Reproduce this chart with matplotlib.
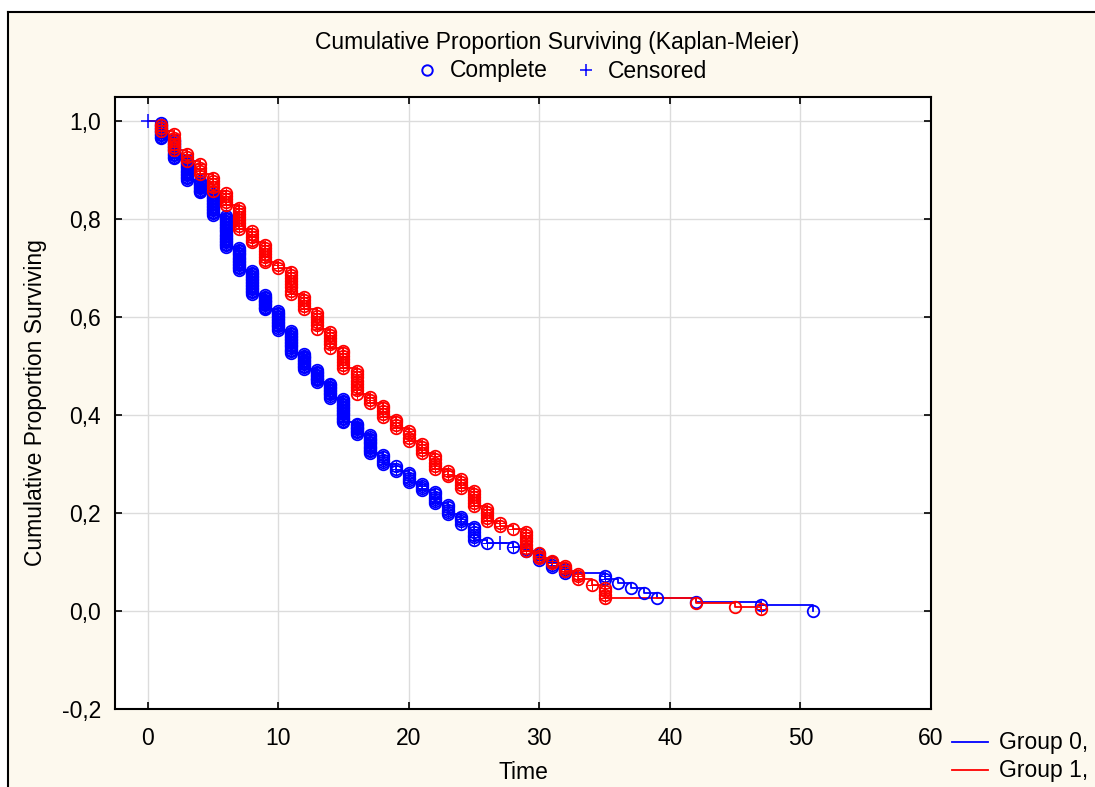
import matplotlib
matplotlib.use("Agg")
import matplotlib.pyplot as plt
import numpy as np
from matplotlib.lines import Line2D
from matplotlib.patches import Rectangle
from matplotlib.ticker import FuncFormatter

plt.rcParams['font.family'] = ['Liberation Sans', 'DejaVu Sans']

# Group 0 (blue): event times, survival after the step, events (circles) per step
t0 = [1, 2, 3, 4, 5, 6, 7, 8, 9, 10, 11, 12, 13, 14, 15, 16, 17, 18, 19, 20,
      21, 22, 23, 24, 25, 26, 28, 29, 30, 31, 32, 35, 36, 37, 38, 39, 42, 47, 51]
s0 = [0.966, 0.925, 0.881, 0.855, 0.810, 0.744, 0.697, 0.648, 0.616, 0.575,
      0.528, 0.495, 0.468, 0.436, 0.386, 0.362, 0.323, 0.300, 0.286, 0.264,
      0.247, 0.221, 0.198, 0.178, 0.145, 0.139, 0.131, 0.122, 0.104, 0.090,
      0.077, 0.066, 0.057, 0.047, 0.037, 0.027, 0.018, 0.012, 0.0]
d0 = [11, 13, 14, 9, 15, 21, 15, 16, 11, 13, 15, 11, 9, 10, 16, 8, 12, 5, 3, 5,
      4, 6, 5, 4, 6, 1, 1, 2, 3, 3, 3, 2, 1, 1, 1, 1, 1, 1, 1]
cens_t0 = [0, 27]
cens_s0 = [1.0, 0.139]

# Group 1 (red)
t1 = [1, 2, 3, 4, 5, 6, 7, 8, 9, 10, 11, 12, 13, 14, 15, 16, 17, 18, 19, 20,
      21, 22, 23, 24, 25, 26, 27, 28, 29, 30, 31, 32, 33, 34, 35, 42, 45, 47]
s1 = [0.980, 0.941, 0.920, 0.892, 0.859, 0.830, 0.781, 0.753, 0.712, 0.700,
      0.648, 0.616, 0.577, 0.538, 0.497, 0.444, 0.425, 0.397, 0.374, 0.348,
      0.323, 0.290, 0.276, 0.252, 0.215, 0.184, 0.174, 0.168, 0.123, 0.108,
      0.098, 0.082, 0.065, 0.053, 0.027, 0.017, 0.008, 0.004]
d1 = [3, 6, 3, 4, 5, 5, 8, 5, 7, 2, 8, 5, 6, 6, 7, 8, 3, 5, 4, 4,
      4, 5, 3, 4, 6, 5, 2, 1, 7, 3, 2, 3, 3, 1, 4, 1, 1, 1]

# steps where the circles also carry a "+" (censored ties)
plus_max0 = 35
plus_max1 = 35
plus_extra = [47]

FS = 16.5
W, H = 1095, 787

fig = plt.figure(figsize=(10.95, 7.87), dpi=100)
fig.patch.set_facecolor('#fdf9ee')
# white margin above / left of the outer frame, frame drawn on top and left only
fig.add_artist(Rectangle((0, 1 - 12 / H), 1, 12 / H, transform=fig.transFigure,
                         facecolor='white', edgecolor='none', zorder=0))
fig.add_artist(Rectangle((0, 0), 8 / W, 1, transform=fig.transFigure,
                         facecolor='white', edgecolor='none', zorder=0))
fig.add_artist(Line2D([8 / W, 1], [1 - 12 / H, 1 - 12 / H], color='black', lw=1.5,
                      transform=fig.transFigure))
fig.add_artist(Line2D([8 / W, 8 / W], [0, 1 - 12 / H], color='black', lw=1.5,
                      transform=fig.transFigure))

ax = fig.add_axes([115 / W, 1 - 709 / H, 816 / W, 612 / H])
ax.set_facecolor('white')


def draw_group(t, s, d, color, plus_max):
    xs = [0] + t
    ys = [1.0] + s
    ax.plot(xs, ys, drawstyle='steps-post', color=color, lw=1.3, zorder=3)
    prev = 1.0
    for ti, si, di in zip(t, s, d):
        step = (prev - si) / di
        vals = np.linspace(prev - step, si, di)
        ax.plot([ti] * di, vals, 'o', ms=8.3, mfc='none', mec=color, mew=1.3, zorder=4)
        if ti <= plus_max or ti in plus_extra:
            ax.plot([ti] * di, vals, '+', ms=6.5, color=color, mew=0.7, zorder=4)
        prev = si


draw_group(t0, s0, d0, '#0000ff', plus_max0)
draw_group(t1, s1, d1, '#ff0000', plus_max1)
ax.plot(cens_t0, cens_s0, '+', ms=10, color='#0000ff', mew=1.1, zorder=5)

ax.set_xlim(-2.5, 60)
ax.set_ylim(-0.2, 1.05)
ax.set_xticks(np.arange(0, 61, 10))
ax.set_yticks(np.arange(-0.2, 1.01, 0.2))
ax.yaxis.set_major_formatter(FuncFormatter(lambda v, p: f'{v:.1f}'.replace('.', ',')))
ax.grid(True, color='#dcdcdc', lw=1)
ax.set_axisbelow(True)
ax.tick_params(direction='in', length=5, width=1.2, labelsize=FS, top=True, right=True)
ax.tick_params(axis='y', pad=10)
ax.tick_params(axis='x', pad=13)
for sp in ax.spines.values():
    sp.set_linewidth(1.5)
ax.set_xlabel('Time', fontsize=FS, labelpad=8)
ax.set_ylabel('Cumulative Proportion Surviving', fontsize=FS, labelpad=11)

# header and marker legend
fig.text(557 / W, 1 - 42 / H, 'Cumulative Proportion Surviving (Kaplan-Meier)',
         ha='center', va='center', fontsize=FS)
fig.add_artist(Line2D([427 / W], [1 - 70 / H], marker='o', ms=7.5, mfc='none',
                      mec='#0000ff', mew=1.4, transform=fig.transFigure))
fig.text(450 / W, 1 - 71 / H, 'Complete', ha='left', va='center', fontsize=FS)
fig.add_artist(Line2D([586 / W], [1 - 70 / H], marker='+', ms=9,
                      color='#0000ff', mew=1.1, transform=fig.transFigure))
fig.text(608 / W, 1 - 71 / H, 'Censored', ha='left', va='center', fontsize=FS)

# group legend, bottom right
for y, c, lab in [(742, '#0000ff', 'Group 0,'), (770, '#ff0000', 'Group 1,')]:
    fig.add_artist(Line2D([952 / W, 988 / W], [1 - y / H, 1 - y / H],
                          color=c, lw=1.3, transform=fig.transFigure))
    fig.text(999 / W, 1 - (y + 1) / H, lab, ha='left', va='center', fontsize=FS)

fig.savefig('out.png', dpi=100, facecolor=fig.get_facecolor())
